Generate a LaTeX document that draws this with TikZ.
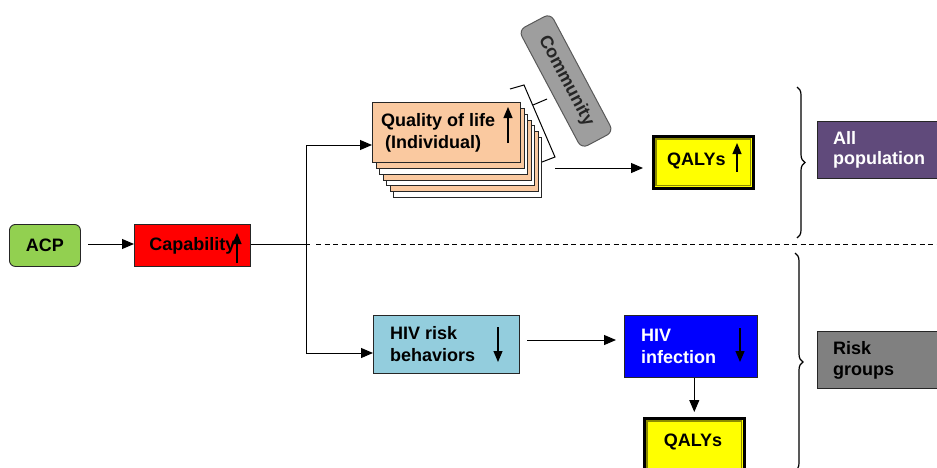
\documentclass[tikz,border=0pt]{standalone}
\usepackage{fontspec}
\setmainfont{Liberation Sans}
\usetikzlibrary{arrows.meta,decorations.pathreplacing,calc}
\definecolor{acpgreen}{HTML}{92D050}
\definecolor{peach}{HTML}{FAC9A0}
\definecolor{riskblue}{HTML}{93CDDD}
\definecolor{infblue}{HTML}{0000FF}
\definecolor{qyellow}{HTML}{FFFF00}
\definecolor{qolive}{HTML}{8C8C00}
\definecolor{popviolet}{HTML}{604A7B}
\definecolor{riskgray}{HTML}{808080}
\definecolor{commgray}{HTML}{9E9E9E}
\begin{document}
\begin{tikzpicture}[x=1pt,y=-1pt,
  font=\fontsize{18}{22}\selectfont\bfseries,
  box/.style={draw=black!85, line width=0.9pt, inner sep=0pt, anchor=north west},
  txt/.style={inner sep=0pt, align=left},
  conn/.style={line width=1pt, -{Triangle[length=12pt,width=10pt]}},
  updown/.style={line width=1.2pt, -{Triangle[length=11pt,width=9pt]}},
  qalybox/.style={box, fill=qyellow, draw=black, line width=2.6pt},
  qinner/.style={draw=qolive, line width=1.3pt},
  bracestyle/.style={decorate, decoration={brace, amplitude=8pt}, line width=1.2pt},
  flat/.style={line width=1pt}]
\useasboundingbox (0,0) rectangle (937,467);

% ACP and capability
\node[box, fill=acpgreen, rounded corners=6pt, minimum width=71, minimum height=42] (acp) at (9,224) {ACP};
\node[box, fill=red, minimum width=116, minimum height=42] (cap) at (134,224) {Capability};
\draw[updown] (237,263) -- (237,233);
\coordinate (acpout) at (80,244);
\draw[conn, shorten <=8pt] (acpout) -- (acpout -| cap.west);

% junction lines
\coordinate (jend) at (310,244);
\coordinate (dstart) at (316,244);
\coordinate (dend) at (937,244);
\coordinate (qa) at (306,145);
\coordinate (ra) at (306,353);
\draw[flat] (cap.east |- jend) -- (jend);
\draw[flat, dash pattern=on 5pt off 3.5pt] (dstart) -- (dend);
\draw[flat] (qa) -- (ra);

% quality of life stack
\node[box, fill=white, minimum width=148, minimum height=60] (ql6) at (393,137) {};
\node[box, fill=peach, minimum width=148, minimum height=60] (ql5) at (389.5,131.2) {};
\node[box, fill=white, minimum width=148, minimum height=60] (ql4) at (386,125.3) {};
\node[box, fill=peach, minimum width=148, minimum height=60] (ql3) at (382.5,119.5) {};
\node[box, fill=white, minimum width=148, minimum height=60] (ql2) at (379,113.7) {};
\node[box, fill=peach, minimum width=148, minimum height=60] (ql1) at (375.5,107.8) {};
\node[box, fill=peach, minimum width=148, minimum height=60] (qol) at (372,102) {};
\node[txt, anchor=west] (qoltext) at ([xshift=9pt]qol.west) {Quality of life\\\hspace{4pt}(Individual)};
\draw[updown] (508,143) -- (508,107);
\draw[conn] (qa) -- (qa -| qol.west);

% bracket and community
\draw[flat] (510,89) -- (524,85) -- (555,157) -- (542,162);
\draw[flat] (533,105) -- (547,99);
\node[draw=black!65, fill=commgray, text=black!85, rounded corners=7pt, line width=1pt,
      minimum width=134, minimum height=36, inner sep=0pt, rotate=-62] (comm) at (566,81) {Community};

% QALYs top
\coordinate (qs) at (555,168);
\node[qalybox, minimum width=100, minimum height=52] (qaly1) at (652,135) {};
\draw[qinner] ([shift={(4,4)}]qaly1.north west) rectangle ([shift={(-4,-4)}]qaly1.south east);
\node[txt, anchor=west] (q1text) at (667,161) {QALYs};
\draw[updown] (737,172) -- (737,143);
\draw[conn, shorten >=9pt] (qs) -- (qs -| qaly1.west);

% HIV risk behaviors
\node[box, fill=riskblue, minimum width=146, minimum height=58] (risk) at (373,315) {};
\node[txt, anchor=west] (risktext) at ([xshift=17pt]risk.west) {HIV risk\\behaviors};
\draw[updown] (498,327) -- (498,362);
\draw[conn] (ra) -- (ra -| risk.west);

% HIV infection
\node[box, fill=infblue, minimum width=133, minimum height=62] (inf) at (624,315) {};
\node[txt, anchor=west, text=white] (inftext) at ([xshift=17pt]inf.west) {HIV\\infection};
\draw[updown] (740,328) -- (740,362);
\coordinate (rb) at (519,340);
\draw[conn, shorten <=8pt, shorten >=8pt] (rb) -- (rb -| inf.west);

% QALYs bottom
\node[qalybox, minimum width=100, minimum height=62] (qaly2) at (643,417) {};
\draw[qinner] ([shift={(4,4)}]qaly2.north west) rectangle ([shift={(-4,-4)}]qaly2.south east);
\node[txt] (q2text) at (693,442) {QALYs};
\draw[conn, shorten >=5pt] (qaly2.north |- inf.south) -- (qaly2.north);

% braces
\draw[bracestyle] (797,87) -- (797,238);
\draw[bracestyle] (795,253) -- (795,471);

% population boxes
\node[box, fill=popviolet, minimum width=140, minimum height=57] (allpop) at (817,121) {};
\node[txt, anchor=west, text=white, font=\fontsize{18}{20}\selectfont\bfseries] (alltext) at ([xshift=16pt]allpop.west) {All\\population};
\node[box, fill=riskgray, minimum width=140, minimum height=57] (riskgr) at (817,331) {};
\node[txt, anchor=west, font=\fontsize{18}{21}\selectfont\bfseries] (rgtext) at ([xshift=16pt]riskgr.west) {Risk\\groups};
\end{tikzpicture}
\end{document}
